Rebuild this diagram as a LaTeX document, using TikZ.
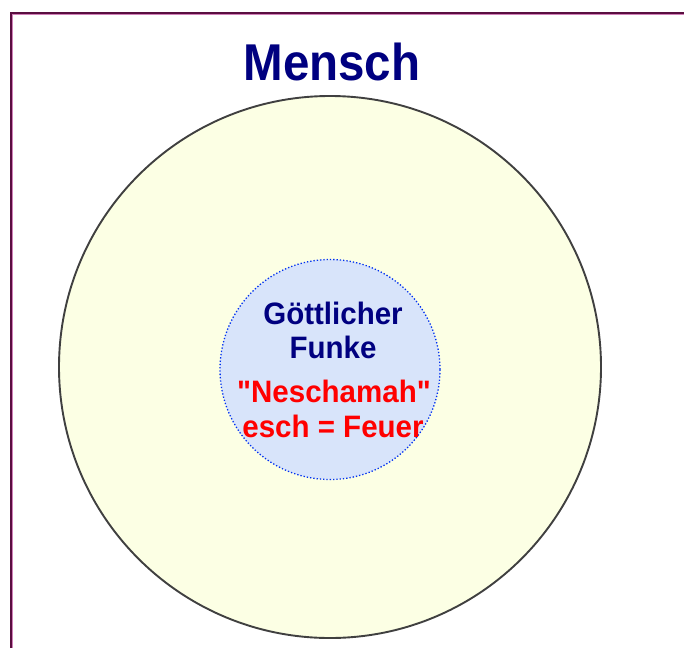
\documentclass[tikz,border=0pt]{standalone}
\usepackage{fontspec}
\setmainfont{Liberation Sans}[Ligatures=TeXOff]
\definecolor{framepurple}{HTML}{5A0E40}
\definecolor{framepink}{HTML}{D080B8}
\definecolor{outerfill}{HTML}{FCFFE4}
\definecolor{outerline}{HTML}{404040}
\definecolor{innerfill}{HTML}{D8E4FA}
\definecolor{innerline}{HTML}{0030F0}
\definecolor{navy}{HTML}{000080}
\definecolor{brightred}{HTML}{FF0000}
\tikzset{
  titletext/.style={font=\bfseries\fontsize{47.5}{52}\selectfont, text=navy},
  bluetext/.style={font=\bfseries\fontsize{29.5}{34}\selectfont, text=navy, align=center},
  redtext/.style={font=\bfseries\fontsize{29.5}{35}\selectfont, text=brightred, align=center},
}
\begin{document}
\begin{tikzpicture}[x=1pt,y=-1pt]
\useasboundingbox (0,0) rectangle (684,648);
\fill[white] (0,0) rectangle (684,648);
% frame
\draw[framepink, line width=1.2pt] (12.6,648) -- (12.6,14.6) -- (684,14.6);
\draw[framepurple, line width=1.6pt] (11,648) -- (11,13.2) -- (684,13.2);
% circles
\node[circle, draw=outerline, fill=outerfill, line width=1.9pt, minimum size=542pt, inner sep=0pt] (outer) at (330,367) {};
\node[circle, draw=innerline, fill=innerfill, dotted, line width=1.3pt, minimum size=220pt, inner sep=0pt] (inner) at (330,369.5) {};
% texts
\node[titletext, anchor=base] (title) at (332,80) {\scalebox{1}[1.09]{Mensch}};
\node[bluetext, anchor=base] (g1) at (333,324) {\scalebox{1}[1.05]{Göttlicher}};
\node[bluetext, anchor=base] (g2) at (333,358) {\scalebox{1}[1.05]{Funke}};
\node[redtext, anchor=base] (r1) at (334,402) {\scalebox{1}[1.05]{"Neschamah"}};
\node[redtext, anchor=base] (r2) at (333,437) {\scalebox{1}[1.05]{esch = Feuer}};
\end{tikzpicture}
\end{document}
